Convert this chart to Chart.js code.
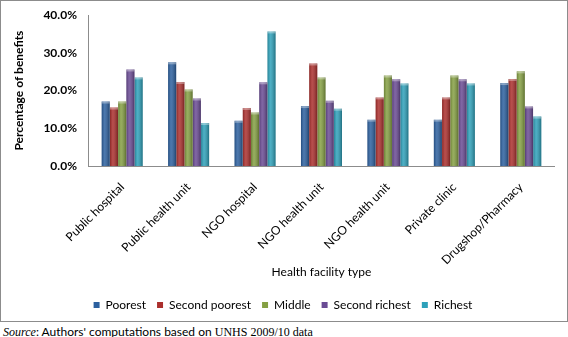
<!DOCTYPE html>
<html>
<head>
<meta charset="utf-8">
<script src="https://cdn.jsdelivr.net/npm/chart.js@4.4.0/dist/chart.umd.min.js"></script>
<style>
  body { margin: 0; background: #fff; }
  #frame { position: absolute; left: 0; top: 0; width: 566px; height: 320px; border: 1px solid #8c8c8c; }
  #source { position: absolute; left: 3px; top: 324px; font-family: "Liberation Serif", serif; font-size: 12px; color: #000; white-space: nowrap; }
  #source .s { font-style: italic; }
  #source .sans { font-family: Lato, "Liberation Sans", sans-serif; font-size: 12px; }
</style>
</head>
<body>
<div id="frame"><canvas id="barChart" width="566" height="320"></canvas></div>
<div id="source"><span class="s">Source</span><span class="sans">: Authors' computations based on </span>UNHS 2009/10 data</div>
<script>
const facilities = ["Public hospital", "Public health unit", "NGO hospital", "NGO health unit", "NGO health unit", "Private clinic", "Drugshop/Pharmacy"];
const poorest = [17.1, 27.5, 12.0, 15.9, 12.3, 12.3, 22.0];
const secondPoorest = [15.5, 22.3, 15.4, 27.2, 18.2, 18.2, 23.1];
const middle = [17.1, 20.3, 14.2, 23.5, 24.0, 24.0, 25.1];
const secondRichest = [25.6, 17.9, 22.2, 17.3, 23.0, 23.0, 15.8];
const richest = [23.5, 11.4, 35.7, 15.2, 21.9, 21.9, 13.1];
const yTicks = [0, 10, 20, 30, 40];

const font = "Lato, 'Liberation Sans', sans-serif";

// cylinder-ish shading on top of each bar
const shade = {
  id: "shade",
  afterDatasetsDraw(chart) {
    const ctx = chart.ctx;
    chart.data.datasets.forEach((ds, i) => {
      chart.getDatasetMeta(i).data.forEach((bar) => {
        const w = bar.width, x0 = bar.x - w / 2;
        const g = ctx.createLinearGradient(x0, 0, x0 + w, 0);
        g.addColorStop(0, "rgba(0,0,0,0.2)");
        g.addColorStop(0.35, "rgba(255,255,255,0.15)");
        g.addColorStop(1, "rgba(0,0,0,0.3)");
        ctx.save();
        ctx.fillStyle = g;
        ctx.fillRect(x0, bar.y, w, bar.base - bar.y);
        ctx.fillStyle = "rgba(255,255,255,0.35)";
        ctx.fillRect(x0, bar.y, w, 2);
        ctx.restore();
      });
    });
  }
};

new Chart(document.getElementById("barChart").getContext("2d"), {
  type: "bar",
  data: {
    labels: facilities,
    datasets: [
      { label: "Poorest", data: poorest, backgroundColor: "#2c609f" },
      { label: "Second poorest", data: secondPoorest, backgroundColor: "#ab2f2d" },
      { label: "Middle", data: middle, backgroundColor: "#85a043" },
      { label: "Second richest", data: secondRichest, backgroundColor: "#6a4b94" },
      { label: "Richest", data: richest, backgroundColor: "#2ea1ba" }
    ]
  },
  options: {
    responsive: false,
    animation: false,
    layout: { padding: { left: 11, right: 13, top: 13, bottom: 0 } },
    datasets: { bar: { categoryPercentage: 0.62, barPercentage: 0.98 } },
    plugins: {
      legend: {
        position: "bottom",
        labels: { boxWidth: 6, boxHeight: 6, padding: 11, color: "#000", font: { family: font, size: 12 } }
      },
      tooltip: { enabled: false }
    },
    scales: {
      x: {
        afterFit: (scale) => { scale.height = 122; },
        grid: { display: false, drawTicks: false },
        border: { color: "#8c8c8c" },
        ticks: { minRotation: 45, maxRotation: 45, color: "#000", padding: 14, font: { family: font, size: 12 } },
        title: { display: true, text: "Health facility type", color: "#000", padding: { top: 0, bottom: 9 }, font: { family: font, size: 12 } }
      },
      y: {
        min: 0, max: 40,
        afterBuildTicks: (axis) => { axis.ticks = yTicks.map((v) => ({ value: v })); },
        grid: { display: false, drawOnChartArea: false, drawTicks: true, tickLength: 5, tickColor: "#8c8c8c" },
        border: { color: "#8c8c8c" },
        ticks: { color: "#000", padding: 7, font: { family: font, size: 12, weight: "bold" }, callback: (v) => v.toFixed(1) + "%" },
        title: { display: true, text: "Percentage of benefits", color: "#000", padding: { top: 0, bottom: 10 }, font: { family: font, size: 12, weight: "bold" } }
      }
    }
  },
  plugins: [shade]
});
</script>
</body>
</html>
